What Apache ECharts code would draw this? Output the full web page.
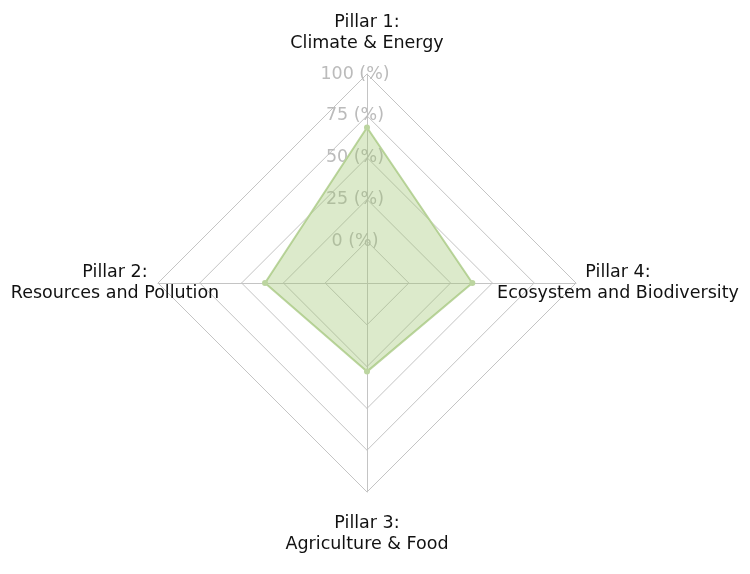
<!DOCTYPE html>
<html>
<head>
<meta charset="utf-8">
<script src="https://cdn.jsdelivr.net/npm/echarts@6/dist/echarts.min.js"></script>
<style>
html,body{margin:0;padding:0;background:#fff;}
#chart{width:750px;height:574px;}
</style>
</head>
<body>
<div id="chart"></div>
<script>
const pillarTitles = ['Pillar 1:', 'Pillar 2:', 'Pillar 3:', 'Pillar 4:'];
const pillarNames = ['Climate & Energy', 'Resources and Pollution', 'Agriculture & Food', 'Ecosystem and Biodiversity'];
const scoreValues = [68, 36, 28, 38];
const axisMin = -25;
const axisMax = 100;
const tickStep = 25;

const nameGaps = [20, 43, 21, 42];
const fontFamily = '"DejaVu Sans", sans-serif';

const indicators = pillarTitles.map((t, i) => {
  const ind = {
    name: t + '\n' + pillarNames[i],
    min: axisMin,
    max: axisMax,
    nameGap: nameGaps[i]
  };
  if (i === 0) {
    ind.axisLabel = { show: true };
  }
  return ind;
});

const chart = echarts.init(document.getElementById('chart'));
chart.setOption({
  animation: false,
  backgroundColor: '#fff',
  radar: {
    center: [367, 283],
    radius: 209,
    shape: 'polygon',
    startAngle: 90,
    splitNumber: (axisMax - axisMin) / tickStep,
    indicator: indicators,
    axisName: {
      color: '#111',
      fontFamily: fontFamily,
      fontSize: 17.5,
      lineHeight: 21,
      align: 'center'
    },
    axisLine: { show: true, lineStyle: { color: '#c4c4c4', width: 1 } },
    splitLine: { lineStyle: { color: '#c4c4c4', width: 1 } },
    splitArea: { show: false },
    axisTick: { show: false },
    axisLabel: {
      show: false,
      color: '#bbbbbb',
      fontFamily: fontFamily,
      fontSize: 17.5,
      align: 'center',
      margin: 12,
      showMinLabel: true,
      formatter: function (v) { return v < 0 ? '' : v + ' (%)'; }
    }
  },
  series: [{
    type: 'radar',
    symbol: 'circle',
    symbolSize: 6,
    lineStyle: { color: '#bcd5a0', width: 2 },
    itemStyle: { color: '#bcd5a0' },
    areaStyle: { color: '#9dc46f', opacity: 0.36 },
    data: [{ value: scoreValues, name: 'Score' }]
  }]
});
</script>
</body>
</html>
